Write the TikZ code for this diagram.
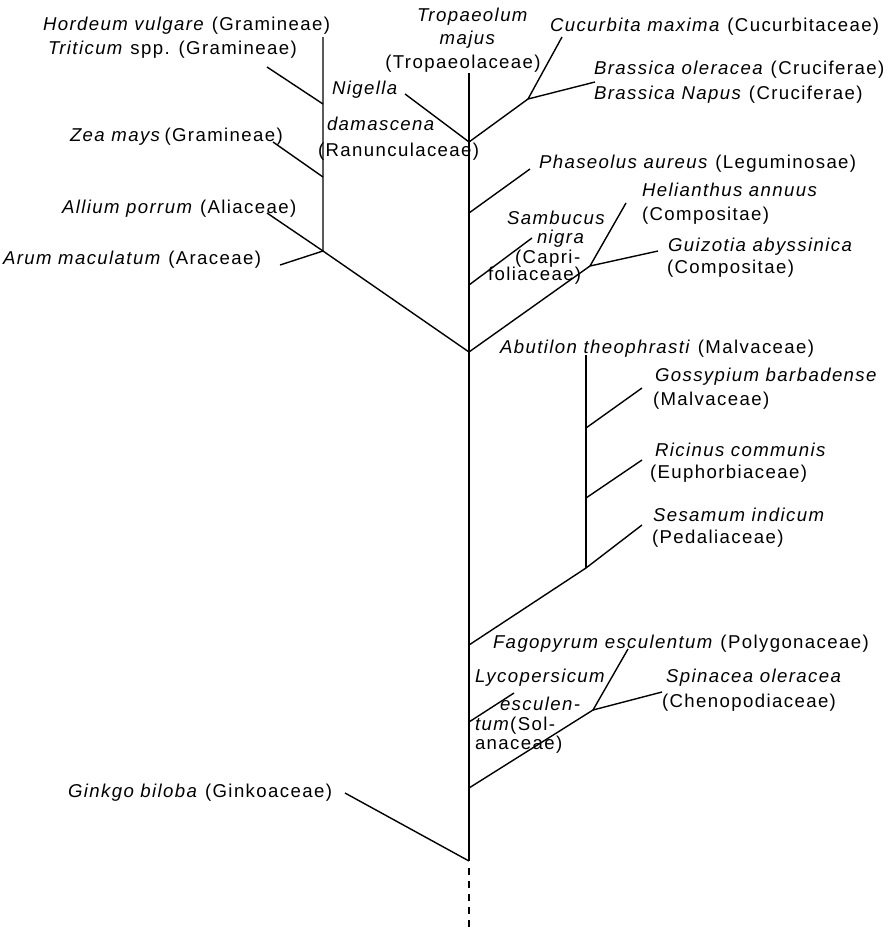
\documentclass[tikz,border=0pt]{standalone}
\usepackage{fontspec}
\setmainfont{Liberation Sans}[LetterSpace=7.5]
\begin{document}
\begin{tikzpicture}[x=1pt,y=-1pt,
  every node/.style={inner sep=0pt, outer sep=0pt, font=\fontsize{18.6pt}{22pt}\selectfont},
  lbl/.style={anchor=base west},
  clbl/.style={anchor=base},
  branch/.style={line width=1.4pt},
  stem/.style={line width=1.4pt, dash pattern=on 7pt off 6pt}
]
\path[use as bounding box] (0,0) rectangle (888,932);

% trunk junctions
\coordinate (tTop) at (469,73);
\coordinate (jNig) at (469,142);
\coordinate (jPha) at (469,213);
\coordinate (jSam) at (469,285);
\coordinate (jAbu) at (469,352);
\coordinate (jFag) at (469,645);
\coordinate (jLyc) at (469,722);
\coordinate (jSpi) at (469,788);
\coordinate (jGin) at (469,861);
\coordinate (dTop) at (469,868);
\coordinate (tBot) at (469,932);
% upper right
\coordinate (eNig) at (405,94);
\coordinate (jBra) at (528,99);
\coordinate (eCuc) at (562,37);
\coordinate (eBra) at (595,82);
\coordinate (ePha) at (530,169);
\coordinate (eSam) at (532,238);
\coordinate (jCom) at (590,266);
\coordinate (eHel) at (626,203);
\coordinate (eGui) at (658,251);
% monocots
\coordinate (jMon) at (323,251);
\coordinate (eAll) at (267,213);
\coordinate (eAru) at (280,265);
\coordinate (mTop) at (323,37);
\coordinate (jTri) at (323,104);
\coordinate (eTri) at (267,67);
\coordinate (jZea) at (323,177);
\coordinate (eZea) at (273,142);
% Malvaceae group
\coordinate (vTop) at (586,355);
\coordinate (jGos) at (586,428);
\coordinate (eGos) at (642,388);
\coordinate (jRic) at (586,498);
\coordinate (eRic) at (642,460);
\coordinate (jMal) at (586,568);
\coordinate (eSes) at (642,525);
% lower
\coordinate (eLyc) at (514,693);
\coordinate (jChe) at (593,710);
\coordinate (eFag) at (628,649);
\coordinate (eSpi) at (662,692);
\coordinate (eGin) at (345,793);

% branches
\draw[branch] (tTop) -- (jGin);
\draw[stem] (dTop) -- (tBot);
\draw[branch] (eNig) -- (jNig) -- (jBra);
\draw[branch] (eCuc) -- (jBra) -- (eBra);
\draw[branch] (jPha) -- (ePha);
\draw[branch] (jSam) -- (eSam);
\draw[branch] (jAbu) -- (jCom);
\draw[branch] (eHel) -- (jCom) -- (eGui);
\draw[branch] (eAll) -- (jMon) -- (jAbu);
\draw[branch] (eAru) -- (jMon) -- (mTop);
\draw[branch] (eTri) -- (jTri);
\draw[branch] (eZea) -- (jZea);
\draw[branch] (vTop) -- (jMal);
\draw[branch] (jGos) -- (eGos);
\draw[branch] (jRic) -- (eRic);
\draw[branch] (jFag) -- (jMal) -- (eSes);
\draw[branch] (jLyc) -- (eLyc);
\draw[branch] (jSpi) -- (jChe) -- (eFag);
\draw[branch] (jChe) -- (eSpi);
\draw[branch] (eGin) -- (jGin);

% labels
\node[lbl] (hord) at (43,30) {\textit{Hordeum vulgare} (Gramineae)};
\node[lbl] (trit) at (48,54) {\textit{Triticum} spp. (Gramineae)};
\node[lbl] (zea) at (70,141) {\textit{Zea mays}\,(Gramineae)};
\node[lbl] (all) at (62,213) {\textit{Allium porrum} (Aliaceae)};
\node[lbl] (arum) at (3,264) {\textit{Arum maculatum} (Araceae)};
\node[lbl] (nig1) at (332,94) {\textit{Nigella}};
\node[lbl] (nig2) at (327,130) {\textit{damascena}};
\node[lbl] (nig3) at (318,156) {(Ranunculaceae)};
\node[clbl] (tro1) at (473,21) {\textit{Tropaeolum}};
\node[clbl] (tro2) at (468,44) {\textit{majus}};
\node[clbl] (tro3) at (463,68) {(Tropaeolaceae)};
\node[lbl] (cuc) at (550,31) {\textit{Cucurbita maxima} (Cucurbitaceae)};
\node[lbl] (bra1) at (594,74) {\textit{Brassica oleracea} (Cruciferae)};
\node[lbl] (bra2) at (594,99) {\textit{Brassica Napus} (Cruciferae)};
\node[lbl] (pha) at (539,168) {\textit{Phaseolus aureus} (Leguminosae)};
\node[lbl] (hel1) at (642,196) {\textit{Helianthus annuus}};
\node[lbl] (hel2) at (642,220) {(Compositae)};
\node[lbl] (sam1) at (507,224) {\textit{Sambucus}};
\node[lbl] (sam2) at (537,243) {\textit{nigra}};
\node[lbl] (sam3) at (515,263) {(Capri-};
\node[lbl] (sam4) at (488,280) {foliaceae)};
\node[lbl] (gui1) at (668,251) {\textit{Guizotia abyssinica}};
\node[lbl] (gui2) at (667,273) {(Compositae)};
\node[lbl] (abu) at (500,353) {\textit{Abutilon theophrasti} (Malvaceae)};
\node[lbl] (gos1) at (655,381) {\textit{Gossypium barbadense}};
\node[lbl] (gos2) at (653,405) {(Malvaceae)};
\node[lbl] (ric1) at (655,456) {\textit{Ricinus communis}};
\node[lbl] (ric2) at (650,478) {(Euphorbiaceae)};
\node[lbl] (ses1) at (653,521) {\textit{Sesamum indicum}};
\node[lbl] (ses2) at (652,543) {(Pedaliaceae)};
\node[lbl] (fag) at (493,648) {\textit{Fagopyrum esculentum} (Polygonaceae)};
\node[lbl] (lyc1) at (475,682) {\textit{Lycopersicum}};
\node[lbl] (lyc2) at (500,710) {\textit{esculen-}};
\node[lbl] (lyc3) at (475,730) {\textit{tum}(Sol-};
\node[lbl] (lyc4) at (475,749) {anaceae)};
\node[lbl] (spi1) at (666,682) {\textit{Spinacea oleracea}};
\node[lbl] (spi2) at (662,707) {(Chenopodiaceae)};
\node[lbl] (gin) at (68,797) {\textit{Ginkgo biloba} (Ginkoaceae)};
\end{tikzpicture}
\end{document}
